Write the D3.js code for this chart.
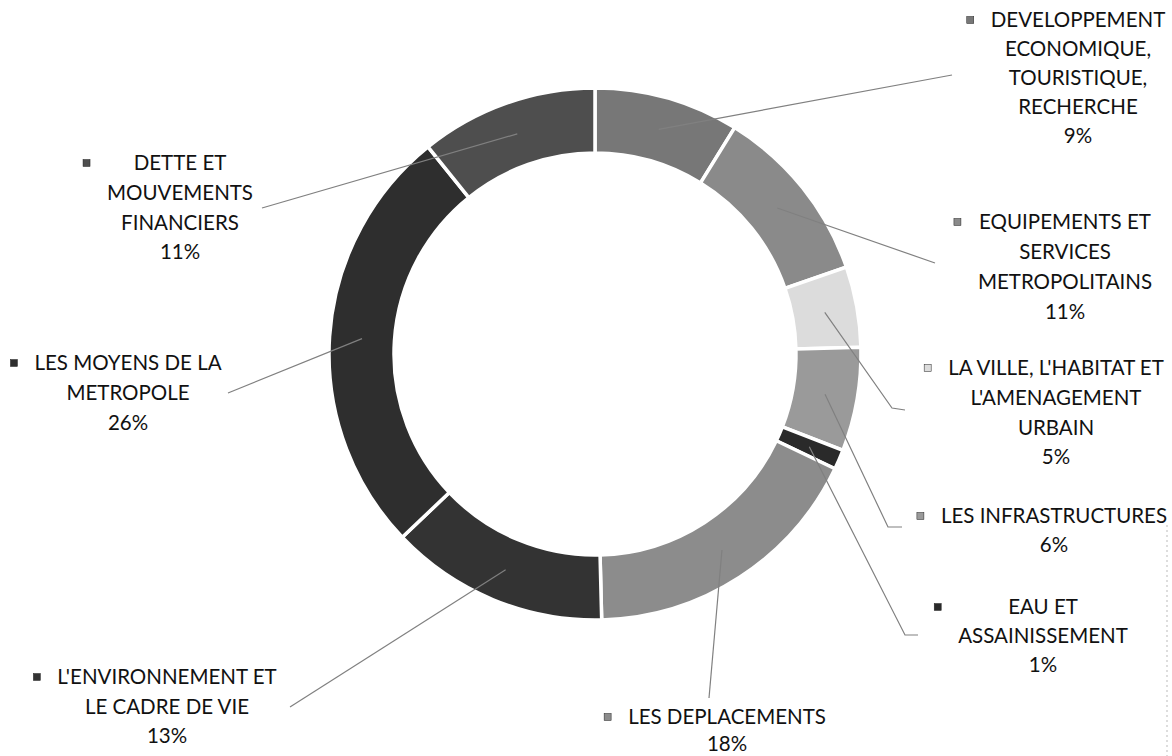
<!DOCTYPE html>
<html>
<head>
<meta charset="utf-8">
<script src="https://cdn.jsdelivr.net/npm/d3@7/dist/d3.min.js"></script>
<style>
  html, body { margin: 0; padding: 0; background: #fff; }
  svg { display: block; }
  text { font-family: Lato, "Open Sans", "Liberation Sans", sans-serif; }
</style>
</head>
<body>
<svg id="chart" width="1172" height="756"></svg>
<script>
// ---- DATA ----
const categories = [
  "DEVELOPPEMENT ECONOMIQUE, TOURISTIQUE, RECHERCHE",
  "EQUIPEMENTS ET SERVICES METROPOLITAINS",
  "LA VILLE, L'HABITAT ET L'AMENAGEMENT URBAIN",
  "LES INFRASTRUCTURES",
  "EAU ET ASSAINISSEMENT",
  "LES DEPLACEMENTS",
  "L'ENVIRONNEMENT ET LE CADRE DE VIE",
  "LES MOYENS DE LA METROPOLE",
  "DETTE ET MOUVEMENTS FINANCIERS"
];
const shares = [8.8, 10.9, 4.9, 6.3, 1.2, 17.5, 13.3, 26.3, 10.8];
const percentLabels = ["9%", "11%", "5%", "6%", "1%", "18%", "13%", "26%", "11%"];

// ---- LAYOUT / STYLE ----
const colors = ["#777777", "#8a8a8a", "#dcdcdc", "#9a9a9a", "#2a2a2a",
                "#8c8c8c", "#333333", "#2e2e2e", "#4e4e4e"];
const labelLayout = [
  { lines: ["DEVELOPPEMENT", "ECONOMIQUE,", "TOURISTIQUE,", "RECHERCHE"], cx: 1078, y0: 20, lh: 29, anchor: [952, 75] },
  { lines: ["EQUIPEMENTS ET", "SERVICES", "METROPOLITAINS"], cx: 1065, y0: 222, lh: 30, anchor: [935, 263] },
  { lines: ["LA VILLE, L'HABITAT ET", "L'AMENAGEMENT", "URBAIN"], cx: 1056, y0: 368, lh: 29.7, anchor: [892, 408], elbow: [905, 410] },
  { lines: ["LES INFRASTRUCTURES"], cx: 1054, y0: 516, lh: 29, anchor: [888, 527], elbow: [902, 527] },
  { lines: ["EAU ET", "ASSAINISSEMENT"], cx: 1043, y0: 607, lh: 29, anchor: [905, 635], elbow: [918, 635] },
  { lines: ["LES DEPLACEMENTS"], cx: 727, y0: 717, lh: 27, anchor: [709, 698] },
  { lines: ["L'ENVIRONNEMENT ET", "LE CADRE DE VIE"], cx: 167, y0: 677, lh: 29.5, anchor: [290, 707] },
  { lines: ["LES MOYENS DE LA", "METROPOLE"], cx: 128, y0: 363, lh: 30, anchor: [228, 393] },
  { lines: ["DETTE ET", "MOUVEMENTS", "FINANCIERS"], cx: 180, y0: 163, lh: 29.7, anchor: [262, 208] }
];
const center = [595, 354];
const rOuter = 266, rInner = 201;
const fontSize = 20.5;

const svg = d3.select("#chart");
const g = svg.append("g").attr("transform", `translate(${center[0]},${center[1]})`);

const pie = d3.pie().sort(null).value(d => d);
const arcs = pie(shares);
const arc = d3.arc().innerRadius(rInner).outerRadius(rOuter);
const midArc = d3.arc().innerRadius((rInner + rOuter) / 2).outerRadius((rInner + rOuter) / 2);

g.selectAll("path.slice")
  .data(arcs)
  .join("path")
  .attr("class", "slice")
  .attr("d", arc)
  .attr("fill", (d, i) => colors[i])
  .attr("stroke", "#fff")
  .attr("stroke-width", 3.5)
  .attr("stroke-linejoin", "miter");

// leader lines
const line = d3.line();
svg.selectAll("path.leader")
  .data(arcs)
  .join("path")
  .attr("class", "leader")
  .attr("d", (d, i) => {
    const c = midArc.centroid(d);
    const pts = [[c[0] + center[0], c[1] + center[1]], labelLayout[i].anchor];
    if (labelLayout[i].elbow) pts.push(labelLayout[i].elbow);
    return line(pts);
  })
  .attr("fill", "none")
  .attr("stroke", "#808080")
  .attr("stroke-width", 1.2);

// labels
const labels = svg.selectAll("g.label")
  .data(arcs)
  .join("g")
  .attr("class", "label");

labels.each(function (d, i) {
  const L = labelLayout[i];
  const grp = d3.select(this);
  const allLines = L.lines.concat([percentLabels[i]]);
  let maxW = 0;
  allLines.forEach((t, k) => {
    const txt = grp.append("text")
      .attr("x", L.cx)
      .attr("y", L.y0 + k * L.lh)
      .attr("dy", "0.35em")
      .attr("text-anchor", "middle")
      .attr("font-size", fontSize)
      .attr("fill", "#111")
      .text(t);
    maxW = Math.max(maxW, txt.node().getComputedTextLength());
  });
  const left = L.cx - maxW / 2;
  grp.append("rect")
    .attr("x", left - 17 - 7)
    .attr("y", L.y0 - 3.5)
    .attr("width", 7)
    .attr("height", 7)
    .attr("fill", colors[i])
    .attr("stroke", "#222")
    .attr("stroke-width", 0.5);
});

// faint scan edge at right
svg.append("line")
  .attr("x1", 1167).attr("x2", 1167)
  .attr("y1", 525).attr("y2", 756)
  .attr("stroke", "#bbb")
  .attr("stroke-width", 1)
  .attr("stroke-dasharray", "2,3");
</script>
</body>
</html>
